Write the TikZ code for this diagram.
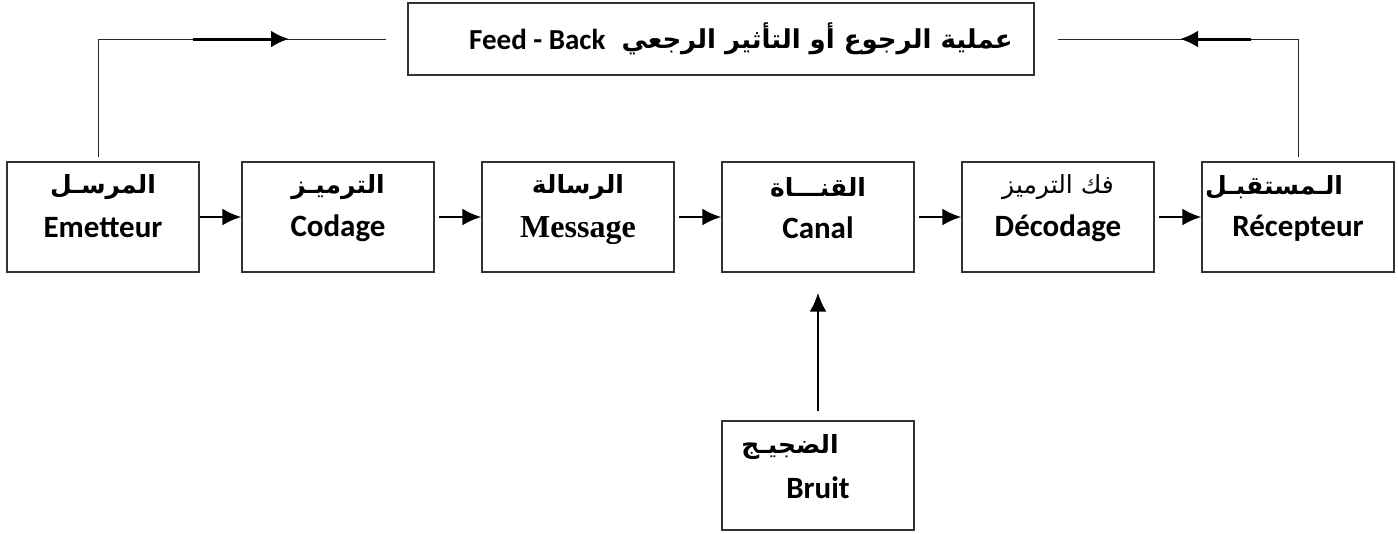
\documentclass[tikz,border=0pt]{standalone}
\usepackage{fontspec}
\setmainfont{Carlito}
\newfontfamily\arabicfont[Script=Arabic]{DejaVu Sans}
\newfontfamily\timesfont{Liberation Serif}
\TeXXeTstate=1
\usetikzlibrary{arrows.meta}

\begin{document}
\begin{tikzpicture}[
            x=1pt,y=-1pt,
            blk/.style={draw=black!80,line width=1.2pt,rectangle,
                minimum width=192pt,minimum height=110pt,inner sep=0pt},
            ar/.style={inner sep=0pt,font=\arabicfont\bfseries\fontsize{25}{28}\selectfont},
            fr/.style={inner sep=0pt,font=\bfseries\fontsize{31}{34}\selectfont},
            flow/.style={line width=2.6pt,-{Latex[length=19pt,width=17pt]}},
            fbline/.style={line width=1pt,black!85},
            fbarrow/.style={line width=3pt,-{Latex[length=18pt,width=17pt]}}
        ]
    % Frame
        \useasboundingbox (0,0) rectangle (1398,533);
    % Blocks
        \node[blk] (emetteur)  at (103,217)  {};
        \node[blk] (codage)    at (338,217)  {};
        \node[blk] (message)   at (578,217)  {};
        \node[blk] (canal)     at (818,217)  {};
        \node[blk] (decodage)  at (1058,217) {};
        \node[blk] (recepteur) at (1298,217) {};
        \node[blk,minimum height=109pt] (bruit) at (818,475.5) {};
        \node[blk,minimum width=626pt,minimum height=72pt] (feedback) at (721,39) {};
    % Labels
        \node[ar] (emetteur-ar) at ([yshift=30pt]emetteur.center) {\beginR المرسـل\endR};
        \node[fr] (emetteur-fr) at ([yshift=-11pt]emetteur.center) {Emetteur};
        \node[ar] (codage-ar) at ([yshift=30pt]codage.center) {\beginR الترميـز\endR};
        \node[fr] (codage-fr) at ([yshift=-11pt]codage.center) {Codage};
        \node[ar] (message-ar) at ([yshift=30pt]message.center) {\beginR الرسالة\endR};
        \node[fr,font=\timesfont\bfseries\fontsize{32}{35}\selectfont] (message-fr) at ([yshift=-14pt]message.center) {Message};
        \node[ar] (canal-ar) at ([yshift=30pt]canal.center) {\beginR القنـــاة\endR};
        \node[fr] (canal-fr) at ([yshift=-11pt]canal.center) {Canal};
        \node[ar,font=\arabicfont\fontsize{25}{28}\selectfont] (decodage-ar) at ([yshift=30pt]decodage.center) {\beginR فك الترميز\endR};
        \node[fr] (decodage-fr) at ([yshift=-11pt]decodage.center) {Décodage};
        \node[ar] (recepteur-ar) at ([xshift=-24pt,yshift=30pt]recepteur.center) {\beginR الـمستقبـل\endR};
        \node[fr] (recepteur-fr) at ([yshift=-11pt]recepteur.center) {Récepteur};
        \node[ar] (bruit-ar) at ([xshift=-28pt,yshift=28pt]bruit.center) {\beginR الضجيـج\endR};
        \node[fr] (bruit-fr) at ([yshift=-12pt]bruit.center) {Bruit};
        \node[ar,font=\arabicfont\bfseries\fontsize{26}{30}\selectfont,anchor=east] (feedback-ar) at (1013,39) {\beginR عملية الرجوع أو التأثير الرجعي\endR};
        \node[fr,font=\bfseries\fontsize{29}{32}\selectfont,anchor=west] (feedback-fr) at (469,39) {Feed - Back};
    % Chain
        \draw[flow] (emetteur.east) -- (codage.west);
    \foreach\a/\b in {codage/message,message/canal,canal/decodage,decodage/recepteur}{
        \draw[flow,shorten <=4pt] (\a.east) -- (\b.west);
    }
        \draw[flow,shorten <=9pt,shorten >=20pt] (bruit.north) -- (canal.south);
    % Feed-back
        \coordinate (fbl) at (386,39);
        \coordinate (fbl-a) at (193,39);
        \coordinate (fbl-b) at (289,39);
        \coordinate (fbr) at (1058,39);
        \coordinate (fbr-a) at (1251,39);
        \coordinate (fbr-b) at (1180,39);
        \draw[fbline] ([xshift=-5pt,yshift=4pt]emetteur.north) |- (fbl);
        \draw[fbline] ([yshift=4pt]recepteur.north) |- (fbr);
        \draw[fbarrow] (fbl-a) -- (fbl-b);
        \draw[fbarrow] (fbr-a) -- (fbr-b);
    \end{tikzpicture}
\end{document}
